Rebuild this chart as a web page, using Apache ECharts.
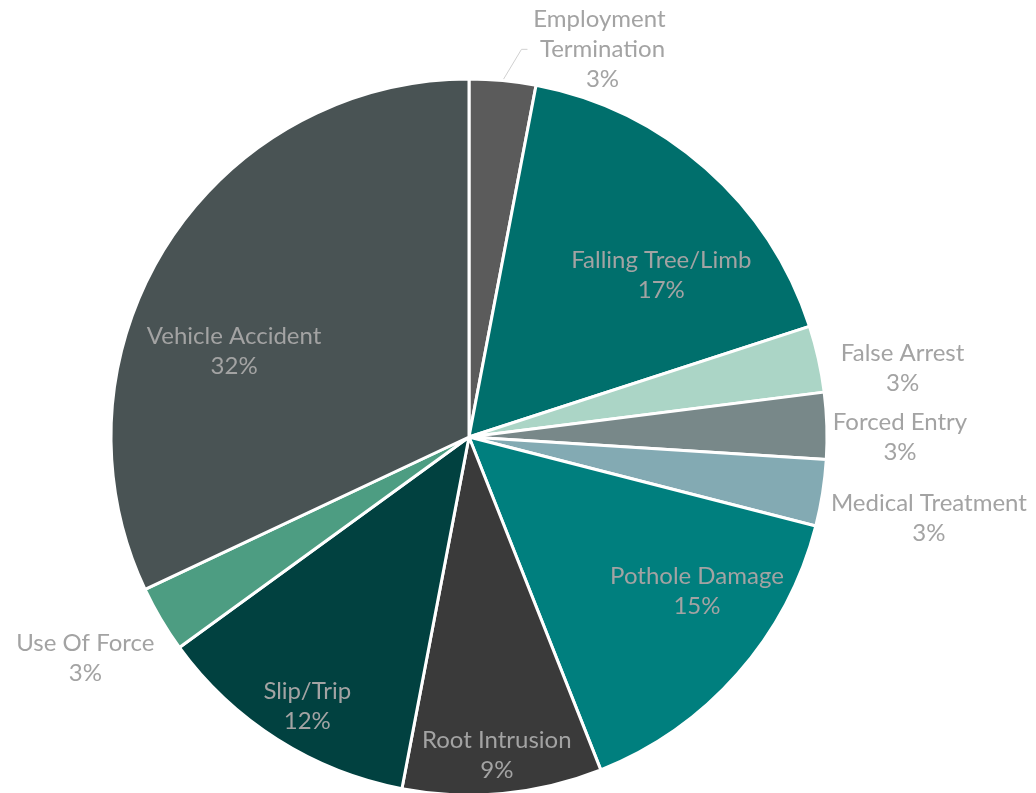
<!DOCTYPE html>
<html lang="en">
<head>
    <meta charset="UTF-8">
    <title>Claims by Type</title>
    <script src="https://cdn.jsdelivr.net/npm/echarts@6/dist/echarts.min.js"></script>
    <style>
        html, body { margin: 0; padding: 0; background: #fff; }
        #main { width: 1036px; height: 793px; }
    </style>
</head>
<body>
<div id="main"></div>
<script>
    // data (percent of claims)
    const categories = ['Employment Termination', 'Falling Tree/Limb', 'False Arrest', 'Forced Entry',
        'Medical Treatment', 'Pothole Damage', 'Root Intrusion', 'Slip/Trip', 'Use Of Force', 'Vehicle Accident'];
    const shares = [3, 17, 3, 3, 3, 15, 9, 12, 3, 32];

    const colors = ['#5b5b5b', '#006f6c', '#abd5c6', '#788889', '#83aab3',
        '#007f7e', '#3a3a3a', '#014140', '#4d9d82', '#495354'];

    // where each label sits, [angle from 12 o'clock, distance from centre]
    const labelSpots = [[19, 410], [50, 251], [81, 439], [90, 431], [100, 467],
        [124, 275], [175, 319], [211, 314], [240, 443], [290, 250]];

    const cx = 469, cy = 437, R = 358;

    let mychart = echarts.init(document.getElementById('main'));
    let option = {
        animation: false,
        color: colors,
        series: [{
            type: 'pie',
            center: [cx, cy],
            radius: R,
            startAngle: 90,
            clockwise: true,
            percentPrecision: 0,
            itemStyle: { borderColor: '#fff', borderWidth: 3 },
            label: {
                show: true,
                position: 'inside',
                formatter: '{b}\n{d}%',
                color: '#a3a3a3',
                fontFamily: 'Lato',
                fontSize: 24,
                lineHeight: 30,
                align: 'center'
            },
            labelLine: { show: false },
            labelLayout: function (params) {
                let s = labelSpots[params.dataIndex];
                let a = s[0] * Math.PI / 180;
                return {
                    x: cx + s[1] * Math.sin(a),
                    y: cy - s[1] * Math.cos(a),
                    align: 'center',
                    verticalAlign: 'middle'
                };
            },
            data: categories.map(function (name, i) {
                let item = { name: name, value: shares[i] };
                if (i === 0) {
                    item.label = { position: 'outside', width: 150, overflow: 'break' };
                    item.labelLine = { show: true, length: 18, length2: 6, lineStyle: { color: '#d0d0d0', width: 1 } };
                }
                return item;
            })
        }]
    };
    mychart.setOption(option);
</script>
</body>
</html>
